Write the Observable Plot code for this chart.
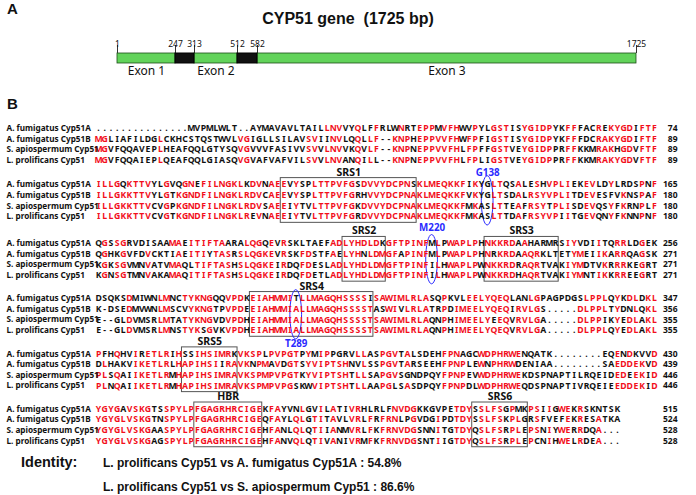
<!DOCTYPE html>
<html><head><meta charset="utf-8">
<script src="https://cdn.jsdelivr.net/npm/d3@7"></script>
<script src="https://cdn.jsdelivr.net/npm/@observablehq/plot@0.6"></script>
<style>
body{margin:0;background:#fff;font-family:"Liberation Sans",Arial,sans-serif}
#fig{position:relative;width:696px;height:495px;overflow:hidden;background:#fff}
.abs{position:absolute;white-space:pre;color:#111}
.panel{font-weight:bold;font-size:15px}
</style></head><body><div id="fig">
<div id="gene" class="abs" style="left:0;top:0"></div>
<div id="aln" class="abs" style="left:0;top:0"></div>
<div class="abs panel" style="left:7px;top:0px">A</div>
<div id="title" class="abs" style="left:0;width:696px;text-align:center;top:10px;font-weight:bold;font-size:16px"></div>
<div class="abs panel" style="left:7px;top:95px">B</div>
<div id="ident" class="abs" style="left:0;top:0"></div>
</div>
<script>
// ---------- Part A: gene structure ----------
const geneName = "CYP51 gene";
const geneLength = 1725;
const exonNames = ["Exon 1", "Exon 2", "Exon 3"];
const exonStarts = [1, 313, 582];
const exonEnds = [247, 512, 1725];
const intronStarts = [247, 512];
const intronEnds = [313, 582];
const tickPositions = [1, 247, 313, 512, 582, 1725];

// ---------- Part B: alignment ----------
const seqNames = ["A. fumigatus Cyp51A", "A. fumigatus Cyp51B", "S. apiospermum Cyp51", "L. prolificans Cyp51"];
const seqCyp51A = [
  "...............MVPMLWLT..AYMAVAVLTAILLNVVYQLFFRLWNRTEPPMVFHWVPYLGSTISYGIDPYKFFFACREKYGDIFTF",
  "ILLGQKTTVYLGVQGNEFILNGKLKDVNAEEVYSPLTTPVFGSDVVYDCPNSKLMEQKKFIKYGLTQSALESHVPLIEKEVLDYLRDSPNF",
  "QGSSGRVDISAAMAEITIFTAARALQGQEVRSKLTAEFADLYHDLDKGFTPINFMLPWAPLPHNKKRDAAHARMRSIYVDIITQRRLDGEK",
  "DSQKSDMIWNLMNCTYKNGQQVPDKEIAHMMITLLMAGQHSSSSISAWIMLRLASQPKVLEELYQEQLANLGPAGPDGSLPPLQYKDLDKL",
  "PFHQHVIRETLRIHSSIHSIMRKVKSPLPVPGTPYMIPPGRVLLASPGVTALSDEHFPNAGCWDPHRWENQATK........EQENDKVVD",
  "YGYGAVSKGTSSPYLPFGAGRHRCIGEKFAYVNLGVILATIVRHLRLFNVDGKKGVPETDYSSLFSGPMKPSIIGWEKRSKNTSK"
];
const seqCyp51B = [
  "MGLIAFILDGLCKHCSTQSTWVLVGIGLLSILAVSVIINVLQQLLF--KNPHEPPVVFHWFPFIGSTISYGIDPYKFFFDCRAKYGDIFTF",
  "ILLGKKTTVYLGTKGNDFILNGKLRDVCAEEVYSPLTTPVFGRHVVYDCPNAKLMEQKKFVKYGLTSDALRSYVPLITDEVESFVKNSPAF",
  "QGHKGVFDVCKTIAEITIYTASRSLQGKEVRSKFDSTFAELYHNLDMGFAPINFMLPWAPLPHNRKRDAAQRKLTETYMEIIKARRQAGSK",
  "K-DSEDMVWNLMSCVYKNGTPVPDEEIAHMMIALLMAGQHSSSSTASWIVLRLATRPDIMEELYQEQIRVLGS.....DLPPLTYDNLQKL",
  "DLHAKVIKETLRLHAPIHSIIRAVKNPMAVDGTSYVIPTSHNVLSSPGVTARSEEHFPNPLEWNPHRWDENIAA........SAEDDEKVD",
  "YGYGLVSKGTNSPYLPFGAGRHRCIGEQFAYLQLGTITAVLVRLFRFRNLPGVDGIPDTDYSSLFSKPLGRSFVEFEKRESATKA"
];
const seqSapio = [
  "MGVFQQAVEPLHEAFQQLGTYSQVGVVVFASIVVSVVLNVVKQVLF--KNPNEPPVVFHLFPFFGSTVEYGIDPPRFFKKMRAKHGDVFTF",
  "ILLGKKTTVCVGPKGNDFILNGKLRDVSAEEIYTVLTTPVFGKDVVYDCPNAKLMEQKKFMKASLTTEAFRSYTPLISDEVQSYFKRNPLF",
  "KGKSGVMNVATVMAQLTIFTASHSLQGKEIRDQFDESLADLYHDLDMGFTPINFILHWAPLPWNKKRDRAQRTVAKIYMDTVKRRRKEGRT",
  "E--GLDVMSRLMTATYKNGVDVPDHEIAHMMIALLMAGQHSSSSTSAWIMLRLAQNPHIMEELYEEQVRVLGA.....DLPPIKYEDLAKL",
  "PLSQAIIKETLRMHAPIHSIMRAVKSPMPVPGTKYVIPTSHTLLSAPGVSGNDPQYFPNPEVWDPHRWEKDSPNAPTILRQEIDEDEEKID",
  "YGYGLVSKGAASPYLPFGAGRHRCIGEHFANLQLQTIIANMVRLFKFRNVDGSNNITGTDYQSLFSRPLEPSNIYWERRDQA..."
];
const seqLprol = [
  "MGVFQQAIEPLQEAFQQLGIASQVGVAFVAFVILSVVLNVANQILL--KNPNEPPVVFHLFPLIGSTVEYGIDPPRFFKKMRAKYGDVFTF",
  "ILLGKKTTVCVGTKGNDFILNGKLREVNAEEIYTVLTTPVFGRDVVYDCPNAKLMEQKKFMKASLTTDAFRSYVPIITGEVQNYFKNNPNF",
  "KGNSGTMNVAKAMAQITIFTASHSLQGKEIRDQFDETLADLYHDLDMGFTPINFILHWAPLPWNKKRDHAQRTVAKIYMNTIKKRREEGRT",
  "E--GLDVMSRLMNSTYKSGVKVPDHEIAHMMIALLMAGQHSSSSTSAWIMLRLAQNPHIMEELYQEQVRVLGA.....DLPPLQYEDLAKL",
  "PLNQAIIKETLRMHAPIHSIMRAVKSPMPVPGSKWVIPTSHTLLAAPGLSASDPQYFPNPDLWDPHRWEQDSPNAPTIVRQEIEEDDEKID",
  "YGYGLVSKGAGSPYLPFGAGRHRCIGEHFANVQLQTIVANIVRMFKFRNVDGSNTIIGTDYQSLFSRPLEPCNIHWELRDEA..."
];
const endCyp51A = [74, 165, 256, 347, 430, 515];
const endCyp51B = [89, 180, 271, 356, 439, 524];
const endSapio = [89, 180, 271, 355, 446, 528];
const endLprol = [89, 180, 271, 355, 446, 528];

const regionNames = ["SRS1", "SRS2", "SRS3", "SRS4", "SRS5", "HBR", "SRS6"];
const regionBlock = [1, 2, 2, 3, 4, 5, 5];
const regionStart = [31, 41, 64, 26, 15, 17, 62];
const regionEnd = [52, 47, 75, 45, 23, 27, 70];

const siteLabels = ["G138", "M220", "T289"];
const siteBlock = [1, 2, 3];
const siteCol = [64, 55, 33];
const siteSide = ["above", "high", "below"];

const identityPairs = ["L. prolificans Cyp51 vs A. fumigatus Cyp51A", "L. prolificans Cyp51 vs S. apiospermum Cyp51"];
const identityValues = [54.8, 86.6];

// ---------- layout constants ----------
const RED = "#f20f1c", BLUE = "#2b2bff", BOXC = "#555";
const blockTop = [0, 5.3, 10.85, 16.05, 21.27, 26.47]; // first-row offset of each block, in row units

// ---------- Gene plot ----------
document.getElementById("title").textContent = `${geneName}  (${geneLength} bp)`;
const exons = exonNames.map((n, i) => ({name: n, a: exonStarts[i], b: exonEnds[i]}));
const introns = intronStarts.map((s, i) => ({a: s, b: intronEnds[i]}));
// schematic (not-to-scale) drawing: piecewise mapping from bp to drawing position
const schematic = d3.scaleLinear().domain(tickPositions).range([117, 175, 194, 237, 257, 636]);
const gene = Plot.plot({
  width: 696, height: 90, marginTop: 53, marginBottom: 27, marginLeft: 0, marginRight: 0,
  x: {transform: schematic, domain: [0, 696], range: [0, 696], axis: null},
  style: {background: "transparent"},
  marks: [
    Plot.ruleX(tickPositions, {x: d => d, stroke: "#000", strokeWidth: 0.8, insetTop: -8, insetBottom: 10}),
    Plot.rect(exons, {x1: "a", x2: "b", fill: "#62d35a", stroke: "#1d4f18", strokeWidth: 0.8}),
    Plot.rect(introns, {x1: "a", x2: "b", fill: "#111", stroke: "#000"}),
    Plot.text(tickPositions, {x: d => d, text: d => String(d), frameAnchor: "top", dy: -13, fontSize: 8.5, fill: "#111"}),
    Plot.text(exons, {x: d => (d.a + d.b) / 2, text: "name", frameAnchor: "bottom", dy: 11, fontSize: 12, fill: "#111"})
  ]
});
document.getElementById("gene").appendChild(gene);

// ---------- Alignment data table ----------
const allSeqs = [seqCyp51A, seqCyp51B, seqSapio, seqLprol];
const allEnds = [endCyp51A, endCyp51B, endSapio, endLprol];
const residues = [], rowLabels = [];
for (let b = 0; b < 6; b++) {
  const len = allSeqs[0][b].length;
  for (let c = 0; c < len; c++) {
    const col = allSeqs.map(s => s[b][c]);
    const counts = {};
    col.forEach(ch => { if (/[A-Z]/.test(ch)) counts[ch] = (counts[ch] || 0) + 1; });
    col.forEach((ch, r) => {
      residues.push({col: c + 1, y: blockTop[b] + r, ch, red: (counts[ch] || 0) >= 3});
    });
  }
  for (let r = 0; r < 4; r++) rowLabels.push({y: blockTop[b] + r, name: seqNames[r], end: allEnds[r][b]});
}
const regions = regionNames.map((n, i) => ({name: n, b: regionBlock[i], c1: regionStart[i], c2: regionEnd[i]}));
const sites = siteLabels.map((n, i) => ({name: n, b: siteBlock[i], col: siteCol[i], side: siteSide[i]}));

const aln = Plot.plot({
  width: 696, height: 495, margin: 0,
  x: {domain: [0.5, 91.5], range: [95, 657], axis: null},
  y: {domain: [0, 1], range: [128, 138.6], axis: null},
  style: {background: "transparent"},
  marks: [
    Plot.rect(regions, {x1: d => d.c1 - 0.5, x2: d => d.c2 + 0.5, y1: d => blockTop[d.b] - 0.62, y2: d => blockTop[d.b] + 3.6, fill: "none", stroke: BOXC, strokeWidth: 1}),
    Plot.text(regions, {x: d => (d.c1 + d.c2) / 2, y: d => blockTop[d.b] - 1.17, text: "name", fontWeight: "bold", fontSize: 10.5, fill: "#111"}),
    Plot.rect(sites, {x1: d => d.col - 0.95, x2: d => d.col + 0.95, y1: d => blockTop[d.b] - 0.8, y2: d => blockTop[d.b] + 3.85, rx: 6, ry: 40, fill: "none", stroke: BLUE, strokeWidth: 1}),
    Plot.text(sites, {x: "col", y: d => blockTop[d.b] + (d.side === "below" ? 4.25 : d.side === "high" ? -1.5 : -1.1), text: "name", fontWeight: "bold", fontSize: 9.8, fill: BLUE}),
    Plot.text(residues, {x: "col", y: "y", text: "ch", fill: d => d.red ? RED : "#111", fontWeight: "bold", fontSize: 8.7}),
    Plot.text(rowLabels, {y: "y", text: "name", frameAnchor: "left", dx: 6, textAnchor: "start", fontWeight: "bold", fontSize: 8.2, fill: "#111"}),
    Plot.text(rowLabels, {y: "y", text: d => String(d.end), frameAnchor: "right", dx: -19, textAnchor: "end", fontWeight: "bold", fontSize: 8.5, fill: "#111"})
  ]
});
document.getElementById("aln").appendChild(aln);

// ---------- Identity lines ----------
const ident = document.getElementById("ident");
const lab = document.createElement("div");
lab.className = "abs"; lab.style.cssText = "left:21px;top:454px;font-weight:bold;font-size:14.5px";
lab.textContent = "Identity:";
ident.appendChild(lab);
identityPairs.forEach((p, i) => {
  const d = document.createElement("div");
  d.className = "abs";
  d.style.cssText = `left:103px;top:${456 + i * 24}px;font-weight:bold;font-size:12px`;
  d.textContent = `${p} : ${identityValues[i]}%`;
  ident.appendChild(d);
});
</script></body></html>
